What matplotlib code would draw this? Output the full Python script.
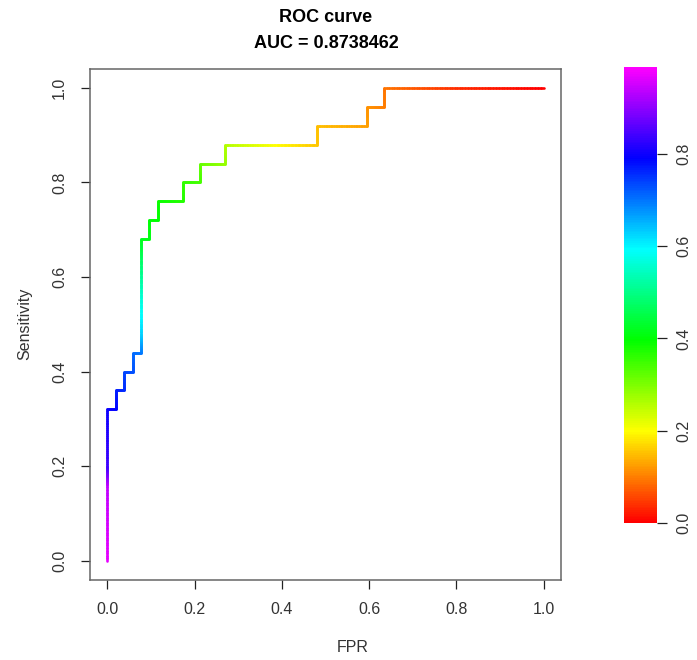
import numpy as np
import matplotlib.pyplot as plt
from matplotlib.collections import LineCollection
from matplotlib.colors import ListedColormap, Normalize, hsv_to_rgb
from matplotlib.cm import ScalarMappable

plt.rcParams['font.family'] = ['Liberation Sans', 'DejaVu Sans']

# ROC corner points (FPR in units of 1/52 negatives, TPR in units of 1/25 positives)
n_neg = 52
n_pos = 25
fpr_counts = [0, 0, 0, 0, 1, 1, 2, 2, 3, 3, 4, 4, 4, 4, 4, 5, 5, 6, 6, 9, 9, 11, 11, 14, 14, 20, 25, 25, 31, 31, 33, 33, 42, 52]
tpr_counts = [0, 4, 5, 8, 8, 9, 9, 10, 10, 11, 11, 12, 14, 16, 17, 17, 18, 18, 19, 19, 20, 20, 21, 21, 22, 22, 22, 23, 23, 24, 24, 25, 25, 25]
# cutoff value at each corner
cutoffs = [0.97, 0.94, 0.84, 0.80, 0.79, 0.77, 0.76, 0.74, 0.73, 0.71, 0.70, 0.63, 0.56, 0.47, 0.42, 0.41, 0.40, 0.395, 0.39,
           0.37, 0.36, 0.345, 0.32, 0.28, 0.26, 0.20, 0.155, 0.15, 0.125, 0.115, 0.10, 0.092, 0.035, 0.0]
auc = 0.8738462
cut_max = 0.99
cbar_ticks = [0.0, 0.2, 0.4, 0.6, 0.8]
axis_ticks = [0.0, 0.2, 0.4, 0.6, 0.8, 1.0]

fpr = np.array(fpr_counts) / n_neg
tpr = np.array(tpr_counts) / n_pos
cut = np.array(cutoffs)

# R rainbow palette: hue red -> magenta
hues = np.linspace(0, 5 / 6, 256)
cmap = ListedColormap(hsv_to_rgb(np.column_stack([hues, np.ones(256), np.ones(256)])))
norm = Normalize(0, cut_max)

fig = plt.figure(figsize=(6.97, 6.60), dpi=100)
ax = fig.add_axes([90 / 697, 1 - 579.5 / 660, 471 / 697, 510.5 / 660])

# split every segment so the colour changes smoothly along it
segs = []
vals = []
for i in range(len(fpr) - 1):
    t = np.linspace(0, 1, 31)
    xs = fpr[i] + (fpr[i + 1] - fpr[i]) * t
    ys = tpr[i] + (tpr[i + 1] - tpr[i]) * t
    cs = cut[i] + (cut[i + 1] - cut[i]) * t
    for j in range(30):
        segs.append([(xs[j], ys[j]), (xs[j + 1], ys[j + 1])])
        vals.append((cs[j] + cs[j + 1]) / 2)
lc = LineCollection(segs, cmap=cmap, norm=norm, linewidths=1.9, capstyle='round', joinstyle='round')
lc.set_array(np.array(vals))
ax.add_collection(lc)

ax.set_xlim(-0.04, 1.04)
ax.set_ylim(-0.04, 1.04)
ax.set_xticks(axis_ticks)
ax.set_yticks(axis_ticks)
ax.set_xticklabels([f"{v:.1f}" for v in axis_ticks])
ax.set_yticklabels([f"{v:.1f}" for v in axis_ticks], rotation=90, va='center')
ax.tick_params(direction='out', length=6.5, width=0.9, pad=10, labelsize=11.5, colors='#222222', labelcolor='#333333')
for sp in ax.spines.values():
    sp.set_color('#666666')
    sp.set_linewidth(1.1)

fig.text(353 / 697, 1 - 648 / 660, "FPR", ha='center', va='center', fontsize=11.5, color='#333333')
fig.text(25 / 697, 1 - 324 / 660, "Sensitivity", ha='center', va='center', rotation=90, fontsize=11.5, color='#333333')
fig.text(326 / 697, 1 - 17 / 660, "ROC curve", ha='center', va='center', fontsize=13, fontweight='bold')
fig.text(326 / 697, 1 - 43 / 660, f"AUC = {auc}", ha='center', va='center', fontsize=13, fontweight='bold')

cax = fig.add_axes([624 / 697, 1 - 522.7 / 660, 33 / 697, 456 / 660])
cb = fig.colorbar(ScalarMappable(norm=norm, cmap=cmap), cax=cax)
cb.outline.set_visible(False)
cb.set_ticks(cbar_ticks)
cb.set_ticklabels([f"{v:.1f}" for v in cbar_ticks])
cax.tick_params(length=7, width=0.9, pad=7, labelsize=11.5, colors='#222222', labelcolor='#333333')
for lab in cax.get_yticklabels():
    lab.set_rotation(90)
    lab.set_va('center')

fig.savefig("out.png", dpi=100)
